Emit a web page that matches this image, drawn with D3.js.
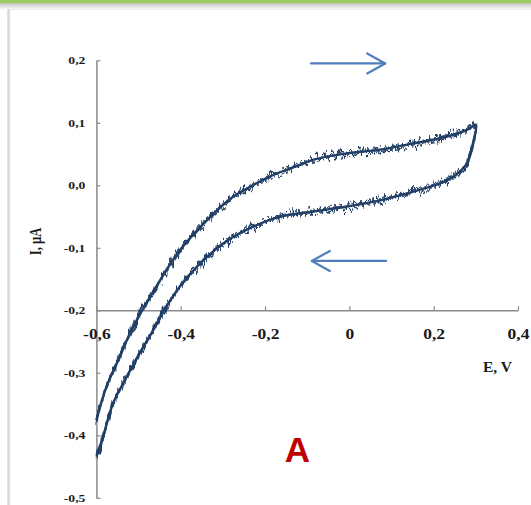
<!DOCTYPE html>
<html>
<head>
<meta charset="utf-8">
<script src="https://cdn.jsdelivr.net/npm/d3@7"></script>
<style>
  html, body { margin: 0; padding: 0; background: #ffffff; }
  svg { display: block; }
</style>
</head>
<body>
<svg id="chart" width="531" height="505"></svg>
<script>
// Cyclic voltammogram: forward scan (-0.6 V -> 0.3 V) and reverse scan (0.3 V -> -0.6 V)
const forwardE = [-0.600, -0.576, -0.544, -0.528, -0.497, -0.466, -0.449, -0.402, -0.338, -0.275, -0.212, -0.172, -0.120, -0.085, -0.006, 0.073, 0.152, 0.231, 0.280, 0.300];
const forwardI = [-0.376, -0.322, -0.274, -0.248, -0.207, -0.171, -0.152, -0.104, -0.056, -0.018, 0.006, 0.019, 0.032, 0.041, 0.051, 0.057, 0.067, 0.078, 0.089, 0.097];

const reverseE = [0.300, 0.294, 0.279, 0.247, 0.215, 0.152, 0.073, -0.006, -0.085, -0.164, -0.228, -0.291, -0.354, -0.402, -0.441, -0.466, -0.497, -0.528, -0.561, -0.584, -0.600];
const reverseI = [0.095, 0.070, 0.035, 0.014, 0.003, -0.010, -0.024, -0.034, -0.042, -0.050, -0.066, -0.089, -0.125, -0.162, -0.202, -0.233, -0.268, -0.306, -0.350, -0.402, -0.434];

// Axis ticks and labels
const xTicks = [-0.6, -0.4, -0.2, 0, 0.2, 0.4];
const xTickLabels = ["-0,6", "-0,4", "-0,2", "0", "0,2", "0,4"];
const yTicks = [0.2, 0.1, 0.0, -0.1, -0.2, -0.3, -0.4, -0.5];
const yTickLabels = ["0,2", "0,1", "0,0", "-0,1", "-0,2", "-0,3", "-0,4", "-0,5"];

// Scan-direction arrows (E from, E to, I level)
const arrowForward = [-0.091, 0.085, 0.195];
const arrowReverse = [0.087, -0.089, -0.121];

const svg = d3.select("#chart");

// ---- slide frame ----
const defs = svg.append("defs");
const topShade = defs.append("linearGradient").attr("id", "topShade")
  .attr("x1", 0).attr("y1", 0).attr("x2", 0).attr("y2", 1);
topShade.append("stop").attr("offset", "0%").attr("stop-color", "#c4c4c4");
topShade.append("stop").attr("offset", "100%").attr("stop-color", "#ffffff");

const sideShade = defs.append("linearGradient").attr("id", "sideShade")
  .attr("x1", 0).attr("y1", 0).attr("x2", 1).attr("y2", 0);
sideShade.append("stop").attr("offset", "0%").attr("stop-color", "#c8c8c8");
sideShade.append("stop").attr("offset", "100%").attr("stop-color", "#f2f2f2");

svg.append("rect").attr("x", 0).attr("y", 3).attr("width", 531).attr("height", 7).attr("fill", "url(#topShade)");
svg.append("rect").attr("x", 0).attr("y", 0).attr("width", 531).attr("height", 3.2).attr("fill", "#9fcc62");
svg.append("rect").attr("x", 7.5).attr("y", 9).attr("width", 3).attr("height", 496).attr("fill", "url(#sideShade)");
svg.append("line").attr("x1", 10).attr("x2", 531).attr("y1", 9.5).attr("y2", 9.5)
  .attr("stroke", "#ececec").attr("stroke-width", 1);

// ---- noise filters for the measured current trace ----
function addJitter(id, seed, freq, scale) {
  const f = defs.append("filter").attr("id", id)
    .attr("filterUnits", "userSpaceOnUse")
    .attr("x", 60).attr("y", 80).attr("width", 460).attr("height", 420)
    .attr("color-interpolation-filters", "sRGB");
  f.append("feTurbulence").attr("type", "fractalNoise")
    .attr("baseFrequency", freq).attr("numOctaves", 3).attr("seed", seed).attr("result", "noise");
  f.append("feColorMatrix").attr("in", "noise").attr("type", "matrix")
    .attr("values", "0 0 0 0 0.5  0 1.6 0 0 -0.3  0 0 0 0 0  0 0 0 0 1").attr("result", "shift");
  f.append("feDisplacementMap").attr("in", "SourceGraphic").attr("in2", "shift")
    .attr("scale", scale).attr("xChannelSelector", "R").attr("yChannelSelector", "G");
}
addJitter("jitterA", 11, "0.32 0.05", 13);
addJitter("jitterB", 29, "0.4 0.06", 10);

// ---- scales ----
const x = d3.scaleLinear().domain([-0.6, 0.4]).range([96.4, 518]);
const y = d3.scaleLinear().domain([-0.5, 0.2]).range([497.8, 60.3]);

const axisColor = "#8a8a8a";

// ---- y axis ----
const yAxis = svg.append("g").attr("transform", `translate(${x(-0.6)},0)`)
  .call(d3.axisLeft(y).tickValues(yTicks)
    .tickFormat((d, i) => yTickLabels[i])
    .tickSizeInner(-4).tickSizeOuter(0));
yAxis.select(".domain").attr("stroke", axisColor).attr("stroke-width", 1.5);
yAxis.selectAll(".tick line").attr("stroke", axisColor).attr("stroke-width", 1.2);
yAxis.selectAll(".tick text")
  .attr("x", null).attr("dy", null)
  .attr("transform", "translate(-11,3.6) scale(1.3,1)")
  .attr("text-anchor", "end")
  .attr("font-family", "'Liberation Serif', 'Times New Roman', serif")
  .attr("font-weight", "bold").attr("font-size", 10.5).attr("fill", "#1a1a1a");

// ---- x axis (crosses at I = -0.2) ----
const xAxis = svg.append("g").attr("transform", `translate(0,${y(-0.2)})`)
  .call(d3.axisBottom(x).tickValues(xTicks)
    .tickFormat((d, i) => xTickLabels[i])
    .tickSizeInner(-4).tickSizeOuter(0));
xAxis.select(".domain").attr("stroke", axisColor).attr("stroke-width", 1.5);
xAxis.selectAll(".tick line").attr("stroke", axisColor).attr("stroke-width", 1.2);
xAxis.selectAll(".tick text")
  .attr("y", null).attr("dy", null)
  .attr("transform", "translate(0,28.3) scale(1.25,1)")
  .attr("text-anchor", "middle")
  .attr("font-family", "'Liberation Serif', 'Times New Roman', serif")
  .attr("font-weight", "bold").attr("font-size", 14).attr("fill", "#1a1a1a");

// ---- axis titles ----
svg.append("text").attr("x", 483).attr("y", 371.5)
  .attr("font-family", "'Liberation Serif', 'Times New Roman', serif")
  .attr("font-weight", "bold").attr("font-size", 15.5).attr("fill", "#1a1a1a")
  .text("E, V");

svg.append("text")
  .attr("transform", "translate(40.5,241.5) scale(1.3,1) rotate(-90)")
  .attr("text-anchor", "middle")
  .attr("font-family", "'Liberation Serif', 'Times New Roman', serif")
  .attr("font-weight", "bold").attr("font-size", 12.5).attr("fill", "#1a1a1a")
  .text("I, µA");

// ---- current trace ----
const loop = forwardE.map((e, i) => [e, forwardI[i]])
  .concat(reverseE.slice(1).map((e, i) => [e, reverseI[i + 1]]));

const line = d3.line()
  .x(d => x(d[0])).y(d => y(d[1]))
  .curve(d3.curveCatmullRom.alpha(0.5));

const traceColor = "#223f66";
const trace = svg.append("g");
trace.append("path").datum(loop).attr("d", line)
  .attr("fill", "none").attr("stroke", traceColor).attr("stroke-width", 2.4)
  .attr("stroke-linejoin", "round");
trace.append("path").datum(loop).attr("d", line)
  .attr("fill", "none").attr("stroke", traceColor).attr("stroke-width", 2.2)
  .attr("stroke-linejoin", "round").attr("filter", "url(#jitterA)");
trace.append("path").datum(loop).attr("d", line)
  .attr("fill", "none").attr("stroke", traceColor).attr("stroke-width", 2)
  .attr("stroke-linejoin", "round").attr("opacity", 0.85).attr("filter", "url(#jitterB)");

// ---- scan direction arrows ----
const arrowColor = "#4f7fbc";
function drawArrow(a) {
  const x0 = x(a[0]), x1 = x(a[1]), yy = y(a[2]);
  const dir = Math.sign(x1 - x0);
  const g = svg.append("g").attr("stroke", arrowColor).attr("stroke-width", 2.2)
    .attr("fill", "none").attr("stroke-linecap", "round").attr("stroke-linejoin", "round");
  g.append("line").attr("x1", x0).attr("x2", x1).attr("y1", yy).attr("y2", yy);
  g.append("polyline").attr("points",
    `${x1 - dir * 18},${yy - 10} ${x1},${yy} ${x1 - dir * 18},${yy + 10}`);
}
drawArrow(arrowForward);
drawArrow(arrowReverse);

// ---- panel letter ----
svg.append("text").attr("x", 297.5).attr("y", 461.5)
  .attr("text-anchor", "middle")
  .attr("font-family", "'Liberation Sans', Arial, sans-serif")
  .attr("font-weight", "bold").attr("font-size", 35).attr("fill", "#c00000")
  .text("A");
</script>
</body>
</html>
